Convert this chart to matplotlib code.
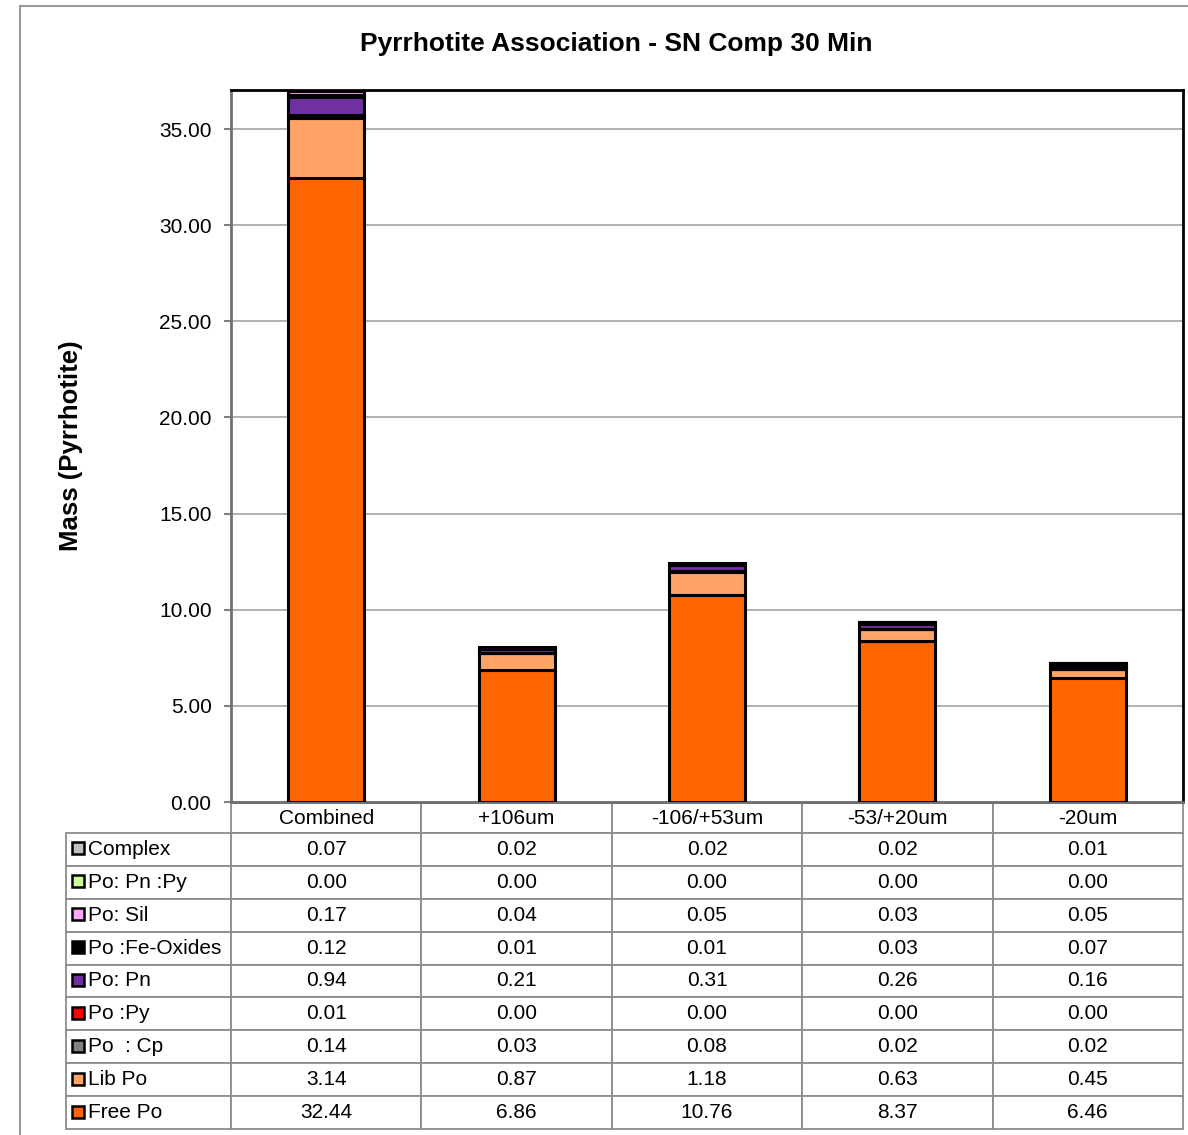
import numpy as np
import matplotlib
matplotlib.use('Agg')
import matplotlib.pyplot as plt
from matplotlib.patches import Rectangle

plt.rcParams['font.family'] = ['Liberation Sans', 'DejaVu Sans']

# data (table rows top -> bottom, stacking is bottom -> top)
categories = ['Combined', '+106um', '-106/+53um', '-53/+20um', '-20um']
series_names = ['Complex', 'Po: Pn :Py', 'Po: Sil', 'Po :Fe-Oxides', 'Po: Pn',
                'Po :Py', 'Po  : Cp', 'Lib Po', 'Free Po']
complex_ = [0.07, 0.02, 0.02, 0.02, 0.01]
po_pn_py = [0.00, 0.00, 0.00, 0.00, 0.00]
po_sil = [0.17, 0.04, 0.05, 0.03, 0.05]
po_feox = [0.12, 0.01, 0.01, 0.03, 0.07]
po_pn = [0.94, 0.21, 0.31, 0.26, 0.16]
po_py = [0.01, 0.00, 0.00, 0.00, 0.00]
po_cp = [0.14, 0.03, 0.08, 0.02, 0.02]
lib_po = [3.14, 0.87, 1.18, 0.63, 0.45]
free_po = [32.44, 6.86, 10.76, 8.37, 6.46]
series_vals = [complex_, po_pn_py, po_sil, po_feox, po_pn, po_py, po_cp, lib_po, free_po]
colors = ['#C0C0C0', '#CCFF99', '#FFA6FF', '#000000', '#7030A0',
          '#FF0000', '#808080', '#FFA366', '#FF6600']

W, H = 1188, 1135
fig = plt.figure(figsize=(W / 100, H / 100), dpi=100)
# axes placement in pixels
ax_l, ax_r, ax_t, ax_b = 231, 1183, 90, 802
ax = fig.add_axes([ax_l / W, 1 - ax_b / H, (ax_r - ax_l) / W, (ax_b - ax_t) / H])

# outer chart border
fig.add_artist(Rectangle((20 / W, -0.02), 1.2, (H - 6) / H + 0.02, transform=fig.transFigure,
                         fill=False, edgecolor='#999999', linewidth=1.5))

x = np.arange(len(categories))
bottom = np.zeros(len(categories))
for name, vals, col in zip(series_names[::-1], series_vals[::-1], colors[::-1]):
    ax.bar(x, vals, width=0.4, bottom=bottom, color=col, edgecolor='black',
           linewidth=2.2, zorder=3, label=name)
    bottom += np.array(vals)

ax.set_xlim(-0.5, len(categories) - 0.5)
ax.set_ylim(0, 37.03)
ax.set_yticks(np.arange(0, 36, 5))
ax.set_yticklabels([f'{v:.2f}' for v in np.arange(0, 36, 5)], fontsize=15)
ax.set_xticks([])
ax.tick_params(axis='y', length=5, width=1.5, color='#808080', pad=9)
ax.grid(axis='y', color='#A6A6A6', linewidth=1.2, zorder=0)
ax.set_axisbelow(True)
for s in ['left', 'bottom']:
    ax.spines[s].set_color('#707070')
    ax.spines[s].set_linewidth(2)
for s in ['top', 'right']:
    ax.spines[s].set_color('black')
    ax.spines[s].set_linewidth(2)

ax.set_ylabel('Mass (Pyrrhotite)', fontsize=18.5, fontweight='bold')
ax.yaxis.set_label_coords(-0.155, 0.5)
fig.text(616 / W, 1 - 44 / H, 'Pyrrhotite Association - SN Comp 30 Min',
         ha='center', va='center', fontsize=19, fontweight='bold')

# data table below the axes
ax_w, ax_h = ax_r - ax_l, ax_b - ax_t
tab_l, tab_t, tab_b = 66, 803, 1129
head_h, row_h = 30, (1129 - 833) / len(series_names)
label_w, col_w = ax_l - tab_l, (ax_r - ax_l) / len(categories)
cell_text = [[''] + categories]
for name, vals in zip(series_names, series_vals):
    cell_text.append([name] + [f'{v:.2f}' for v in vals])
tbl = ax.table(cellText=cell_text, colWidths=[label_w] + [col_w] * len(categories),
               cellLoc='center',
               bbox=[(tab_l - ax_l) / ax_w, -(tab_b - ax_b) / ax_h,
                     (ax_r - tab_l) / ax_w, (tab_b - tab_t) / ax_h])
tbl.auto_set_font_size(False)
tbl.set_fontsize(15)
for (r, c), cell in tbl.get_celld().items():
    cell.set_edgecolor('#8C8C8C')
    cell.set_linewidth(1.3)
    cell.set_height(head_h if r == 0 else row_h)
    if r == 0 and c == 0:
        cell.visible_edges = ''
    if c == 0 and r > 0:
        cell._loc = 'left'
        cell.get_text().set_ha('left')
        cell.PAD = 22 / label_w

# legend keys in the table label column
for i, col in enumerate(colors):
    yc = tab_t + head_h + row_h * (i + 0.5) - 1
    ax.plot([(78 - ax_l) / ax_w], [(ax_b - yc) / ax_h], 's', ms=8, mfc=col,
            mec='black', mew=1.8, transform=ax.transAxes, clip_on=False)

fig.savefig('out.png', dpi=100)
